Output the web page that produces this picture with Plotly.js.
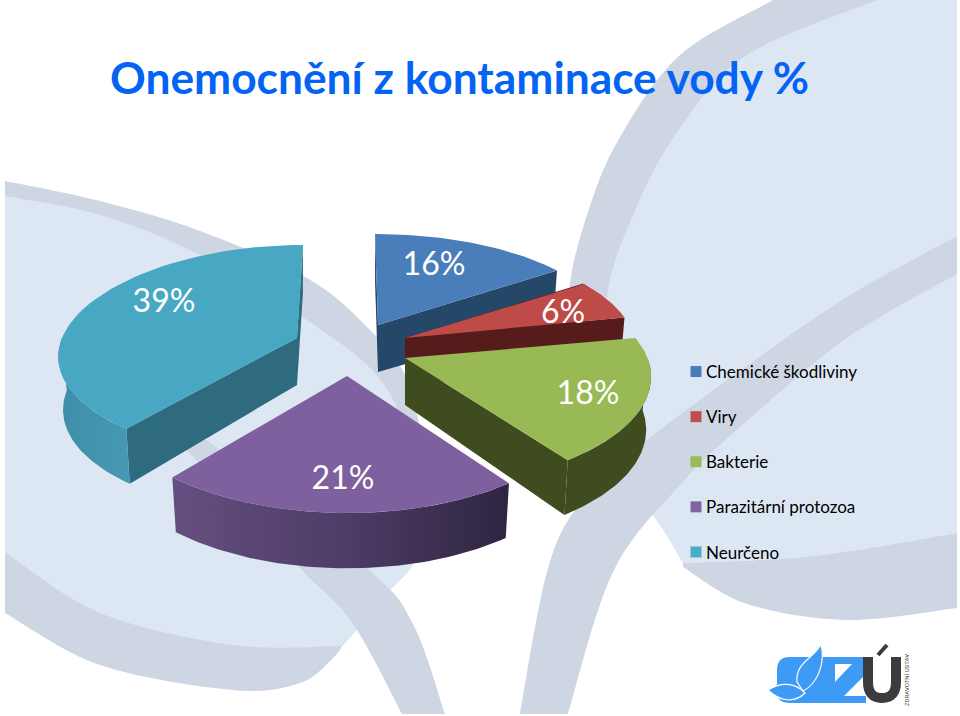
<!DOCTYPE html>
<html><head><meta charset="utf-8">
<script src="https://cdn.plot.ly/plotly-3.0.1.min.js"></script>
<style>html,body{margin:0;padding:0;background:#fff}#chart{width:960px;height:716px}</style>
</head><body><div id="chart"></div>
<script>
// ---- data ----
const categories = ["Chemické škodliviny", "Viry", "Bakterie", "Parazitární protozoa", "Neurčeno"];
const values = [16, 6, 18, 21, 39];
const titleText = "Onemocnění z kontaminace vody %";

// ---- styling ----
const topColors = ["#4a7ebb", "#be4b48", "#98b954", "#7f609f", "#48a8c4"];
const cutColors = ["#254768", "#561c1b", "#3f4c20", "#33284a", "#2f6b7e"];
const legendColors = ["#4a7ebb", "#c0504d", "#9bbb59", "#8064a2", "#4bacc6"];
const sideScales = [
  [[0,"#254768"],[1,"#254768"]],
  [[0,"#561c1b"],[1,"#561c1b"]],
  [[0,"#3f4c20"],[1,"#3f4c20"]],
  [[0,"#654f80"],[0.5,"#4e3d68"],[1,"#2f2540"]],
  [[0,"#3e8ea9"],[1,"#4799b3"]]
];
// projection of each exploded slice (apex, back/front radii, lean of far side)
const geom = [
  {ax:378, ay:325, rxB:195, rxF:280, ryB:91, ryF:137, lean:-3, startCut:true,  endCut:true},
  {ax:405, ay:338, rxB:195, rxF:265, ryB:91, ryF:137, lean:0,  startCut:true,  endCut:true},
  {ax:405, ay:358, rxB:200, rxF:285, ryB:91, ryF:130, lean:0,  startCut:false, endCut:true},
  {ax:347, ay:376, rxB:205, rxF:283, ryB:91, ryF:137, lean:0,  startCut:false, endCut:false},
  {ax:297, ay:338, rxB:198, rxF:278, ryB:93, ryF:121, lean:6,  startCut:true,  endCut:true}
];
const labelPos = [[434,267],[563,315],[588,396],[343,481],[164,304]];
const DEPTH_BACK = 47, DEPTH_FRONT = 58, FONT = "Lato, Carlito, sans-serif";

const total = values.reduce((a,b)=>a+b,0);
function pt(g, th, k, withDepth){
  const t = (1-Math.cos(th))/2;
  const rx = g.rxB+(g.rxF-g.rxB)*t, ry = g.ryB+(g.ryF-g.ryB)*t;
  const d = withDepth ? DEPTH_BACK+(DEPTH_FRONT-DEPTH_BACK)*t : 0;
  return [g.ax + k*(rx*Math.sin(th) + g.lean*(1-t)), g.ay - k*ry*Math.cos(th) + d];
}
function poly(pts){ return {x:pts.map(p=>p[0]).concat(pts[0][0]), y:pts.map(p=>p[1]).concat(pts[0][1])}; }
function face(pts, color, scale){
  const p = poly(pts);
  const tr = {type:"scatter", mode:"lines", x:p.x, y:p.y, fill:"toself", line:{width:0, color:color},
              hoverinfo:"skip", showlegend:false};
  if(scale) tr.fillgradient = {type:"horizontal", colorscale:scale};
  else tr.fillcolor = color;
  return tr;
}
function arc(g, a, b, k, withDepth){
  const out=[], n=60;
  for(let j=0;j<=n;j++) out.push(pt(g, a+(b-a)*j/n, k, withDepth));
  return out;
}
const traces = [];
let acc = 0;
const drawOrder = [4,0,1,2,3];
const spans = values.map(v=>{ const s=[acc/total*2*Math.PI,(acc+v)/total*2*Math.PI]; acc+=v; return s; });
drawOrder.forEach(i=>{
  const g = geom[i], [a,b] = spans[i];
  const apexT=[g.ax,g.ay], apexB=[g.ax,g.ay+DEPTH_BACK];
  if(g.startCut) traces.push(face([apexT,pt(g,a,1,false),pt(g,a,0.98,true),apexB], cutColors[i]));
  // the rim only faces the viewer on the near half of the ellipse
  const sa=Math.max(a,Math.PI/2), sb=Math.min(b,1.5*Math.PI);
  if(sb>sa) traces.push(face(arc(g,sa,sb,1,false).concat(arc(g,sa,sb,0.98,true).reverse()), cutColors[i], sideScales[i]));
  if(g.endCut) traces.push(face([apexT,pt(g,b,1,false),pt(g,b,0.98,true),apexB], cutColors[i]));
  traces.push(face([apexT].concat(arc(g,a,b,1,false)), topColors[i]));
});
// value labels
traces.push({type:"scatter", mode:"text", x:labelPos.map(p=>p[0]), y:labelPos.map(p=>p[1]),
  text:values.map(v=>v+"%"), textposition:"middle center",
  textfont:{family:FONT, size:32, color:"#ffffff"}, hoverinfo:"skip", showlegend:false});
// legend entries
categories.forEach((c,i)=>traces.push({type:"scatter", mode:"markers", x:[null], y:[null], name:c,
  legendgroup:c, marker:{symbol:"square", size:11, color:legendColors[i]}}));

// ---- background artwork ----
function smooth(pts){
  let d = "M"+pts[0].join(",");
  for(let i=0;i<pts.length-1;i++){
    const p0=pts[Math.max(i-1,0)],p1=pts[i],p2=pts[i+1],p3=pts[Math.min(i+2,pts.length-1)];
    d+=" C"+(p1[0]+(p2[0]-p0[0])/6)+","+(p1[1]+(p2[1]-p0[1])/6)+" "+(p2[0]-(p3[0]-p1[0])/6)+","+(p2[1]-(p3[1]-p1[1])/6)+" "+p2[0]+","+p2[1];
  }
  return d;
}
function chain(segs){ // list of smooth segments joined by straight lines
  return segs.map((s,i)=> i? smooth(s).replace(/^M/,"L") : smooth(s)).join(" ")+" Z";
}
const GREY="#ced6e4", LIGHT="#dde7f3";
const area=(path,color)=>({type:"path",path:path,fillcolor:color,line:{width:0},layer:"below",xref:"x",yref:"y"});
const shapes=[
  // left leaf
  area(chain([[[5,181],[100,201],[200,231],[307,278],[367,327],[407,379],[422,450],[420,530],[413,564],[393,587]],
              [[393,587],[353,634],[342,646]],[[342,646],[333,658],[300,683],[233,690],[100,665],[5,613]]]),GREY),
  area(chain([[[5,196],[100,215],[200,255],[307,320],[380,379],[410,450],[418,530],[413,564],[393,587]],
              [[393,587],[353,634],[340,646]],[[340,646],[233,645],[100,613],[5,552]]]),LIGHT),
  area(chain([[[177,440],[300,568],[353,624],[402,714]],[[445,714],[413,624],[367,568],[207,440]]]),GREY),
  // right leaf
  area(chain([[[773,0],[680,55],[620,137],[590,206],[570,284],[575,345]],[[640,345]],[[957,345]],[[957,0]]]),GREY),
  area(chain([[[877,0],[747,55],[680,128],[637,206],[607,297],[615,400],[640,490],[665,533],[683,563]],
              [[683,563],[813,556],[957,533]],[[957,0]]]),LIGHT),
  area(chain([[[683,563],[813,556],[957,533]],[[957,608],[847,620],[747,604],[683,567]]]),GREY),
  area(chain([[[957,236],[847,297],[747,366],[642,444],[580,503],[547,572],[520,714]],
              [[568,714],[613,572],[680,485],[747,421],[847,338],[957,274]]]),GREY),
  // logo
  {type:"path",path:"M777,670 Q777,657 790,657 L830,657 L830,703 L790,703 Q777,703 777,692 Z",fillcolor:"#3d9bf5",line:{width:0},layer:"below"},
  {type:"path",path:"M797,682 C795,662 815,658 821,644 C826,665 816,685 803,691 Z",fillcolor:"#3d9bf5",line:{width:1.2,color:"#ffffff"},layer:"below"},
  {type:"path",path:"M768,690 C780,682 795,682 805,693 C795,703 780,702 768,690 Z",fillcolor:"#3d9bf5",line:{width:1.2,color:"#ffffff"},layer:"below"},
  {type:"path",path:"M828,657 L866,657 L866,703 L828,703 Z M835,664 L835,682 L852,664 Z M844,696 L866,696 L866,674 Z",fillcolor:"#3d9bf5",line:{width:0},layer:"below"},
  {type:"path",path:"M868,657 V682 Q868,698 882,698 Q896,698 896,682 V657",fillcolor:"rgba(0,0,0,0)",line:{width:10,color:"#3c3c3e"},layer:"below"},
  {type:"path",path:"M878,655 L887,645",line:{width:4,color:"#3c3c3e"},layer:"below"}
];

const layout = {
  width:960, height:716, margin:{l:0,r:0,t:0,b:0}, paper_bgcolor:"#ffffff", plot_bgcolor:"rgba(0,0,0,0)",
  title:{text:titleText, x:110/960, xanchor:"left", y:1-78/716, yanchor:"middle",
         font:{family:FONT, size:44.3, weight:700, color:"#0563f3"}},
  xaxis:{range:[0,960], visible:false, fixedrange:true},
  yaxis:{range:[716,0], visible:false, fixedrange:true},
  showlegend:true,
  legend:{x:666/960, xanchor:"left", y:1-354/716, yanchor:"top", bgcolor:"rgba(0,0,0,0)",
          font:{family:FONT, size:17, color:"#000000"}, tracegroupgap:20, itemclick:false, itemdoubleclick:false},
  annotations:[{x:906,y:680,xref:"x",yref:"y",text:"ZDRAVOTNÍ ÚSTAV",textangle:-90,showarrow:false,
                font:{family:"Roboto",size:6,color:"#444444"}}],
  shapes:shapes
};
Plotly.newPlot("chart", traces, layout, {displayModeBar:false, staticPlot:true}).then(()=>{
  document.querySelectorAll("#chart .legendsymbols").forEach(n=>n.setAttribute("transform","translate(10,0)"));
});
</script></body></html>
